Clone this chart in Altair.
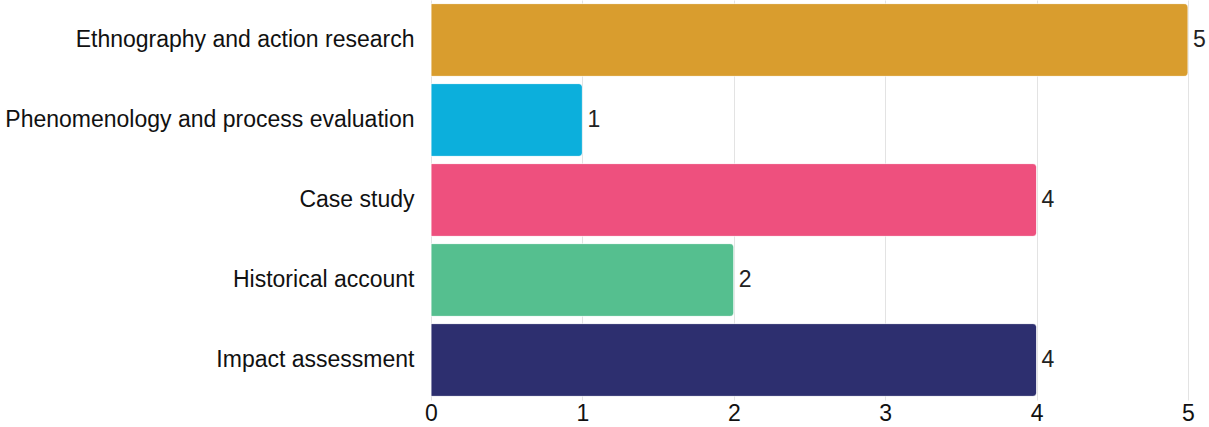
import altair as alt
import pandas as pd

categories = ["Ethnography and action research", "Phenomenology and process evaluation",
              "Case study", "Historical account", "Impact assessment"]
values = [5, 1, 4, 2, 4]
colors = ["#D99D2E", "#0CAFDC", "#EE507E", "#55BF8F", "#2D2F6F"]

df = pd.DataFrame({"cat": categories, "val": values, "color": colors})

y = alt.Y("cat:N", sort=categories, title=None,
          scale=alt.Scale(paddingInner=0.09, paddingOuter=0.045),
          axis=alt.Axis(labelFont="Liberation Sans", labelFontSize=23, labelColor="#111",
                        labelPadding=17, ticks=False, domain=False, labelLimit=500))
x = alt.X("val:Q", title=None, scale=alt.Scale(domain=[0, 5], nice=False),
          axis=alt.Axis(values=[0, 1, 2, 3, 4, 5], format="d", labelFont="Liberation Sans",
                        labelFontSize=23, labelColor="#111", ticks=False, domain=False,
                        labelFlush=False, gridColor="#e3e3e3", labelPadding=2))

bars = alt.Chart(df).mark_bar(cornerRadiusTopRight=4, cornerRadiusBottomRight=4,
                              stroke="#ffffff", strokeOpacity=0.5, strokeWidth=1).encode(
    x=x, y=y, color=alt.Color("color:N", scale=None))

text = alt.Chart(df).mark_text(align="left", dx=5, font="Liberation Sans", fontSize=23,
                               color="#222").encode(
    x="val:Q", y=alt.Y("cat:N", sort=categories), text="val:Q")

chart = alt.layer(bars, text).properties(
    width=757, height=400,
    padding={"left": 431, "top": 0, "right": 21, "bottom": 27},
    autosize="none",
).configure_view(stroke=None)

chart.save("out.html", embed_options={"renderer": "svg", "actions": False})
